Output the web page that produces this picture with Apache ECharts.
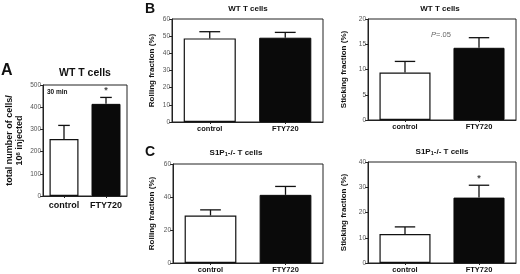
<!DOCTYPE html>
<html lang="en">
<head>
    <meta charset="UTF-8">
    <title>T cells FTY720</title>
    <script src="https://cdn.jsdelivr.net/npm/echarts@6/dist/echarts.min.js"></script>
    <style>
        html, body { margin: 0; padding: 0; background: #fff; }
        #chart { width: 520px; height: 274px; }
    </style>
</head>
<body>
    <div id="chart"></div>
    <script>
        // data
        var categories = ['control', 'FTY720'];

        // A: total number of cells / 10^6 injected (WT, 30 min)
        var totalMean = [257, 415];
        var totalSem = [61, 29];
        var totalMarks = ['', '*'];

        // B: WT T cells
        var wtRollMean = [48.7, 49.1];
        var wtRollSem = [3.9, 3.1];
        var wtStickMean = [9.4, 14.3];
        var wtStickSem = [2.2, 2.0];

        // C: S1P1-/- T cells
        var koRollMean = [28.8, 41.3];
        var koRollSem = [3.4, 5.1];
        var koStickMean = [11.5, 25.9];
        var koStickSem = [2.8, 4.9];
        var koStickMarks = ['', '*'];

        var font = 'Liberation Sans, Arial, sans-serif';

        // panel layout (px) and text sizes
        var panels = [
            { left: 43, top: 85, width: 84, height: 111, max: 500, interval: 100,
              mean: totalMean, sem: totalSem, marks: totalMarks, catSize: 9, catMargin: 5,
              name: 'total number of cells/\n10{sup|6} injected', nameGap: 18, nameSize: 9 },
            { left: 172, top: 19, width: 151, height: 103, max: 60, interval: 10,
              mean: wtRollMean, sem: wtRollSem, marks: ['', ''], catSize: 7.5, catMargin: 3,
              name: 'Rolling fraction (%)', nameGap: 15, nameSize: 8 },
            { left: 368, top: 19, width: 148, height: 101, max: 20, interval: 5,
              mean: wtStickMean, sem: wtStickSem, marks: ['', ''], catSize: 7.5, catMargin: 3,
              name: 'Sticking fraction (%)', nameGap: 19, nameSize: 8 },
            { left: 173, top: 164, width: 150, height: 99, max: 60, interval: 20,
              mean: koRollMean, sem: koRollSem, marks: ['', ''], catSize: 7.5, catMargin: 3,
              name: 'Rolling fraction (%)', nameGap: 16, nameSize: 8 },
            { left: 368, top: 162, width: 148, height: 101, max: 40, interval: 10,
              mean: koStickMean, sem: koStickSem, marks: koStickMarks, catSize: 7.5, catMargin: 3,
              name: 'Sticking fraction (%)', nameGap: 19, nameSize: 8 }
        ];

        var grids = [], xAxes = [], yAxes = [], series = [];

        panels.forEach(function (p, i) {
            grids.push({
                left: p.left, top: p.top, width: p.width, height: p.height,
                show: true, borderColor: '#222', borderWidth: 1, backgroundColor: 'transparent'
            });
            xAxes.push({
                gridIndex: i, type: 'category', data: categories,
                axisLine: { lineStyle: { color: '#222', width: 1 } },
                axisTick: { show: true, alignWithLabel: true, length: 2, lineStyle: { color: '#222' } },
                axisLabel: { interval: 0, color: '#111', fontFamily: font, fontWeight: 'bold',
                             fontSize: p.catSize, margin: p.catMargin }
            });
            yAxes.push({
                gridIndex: i, type: 'value', min: 0, max: p.max, interval: p.interval,
                splitLine: { show: false },
                axisLine: { show: true, lineStyle: { color: '#222', width: 1 } },
                axisTick: { show: true, length: 3, lineStyle: { color: '#222' } },
                axisLabel: { color: '#555', fontFamily: font, fontSize: 6.5, margin: 2 },
                name: p.name, nameLocation: 'middle', nameGap: p.nameGap,
                nameTextStyle: {
                    color: '#111', fontFamily: font, fontWeight: 'bold', fontSize: p.nameSize, lineHeight: 10,
                    rich: { sup: { fontSize: 6, verticalAlign: 'top', fontWeight: 'bold', fontFamily: font,
                                   lineHeight: 10, padding: [0, 0, 3, 0] } }
                }
            });
            series.push({
                type: 'bar', xAxisIndex: i, yAxisIndex: i, barWidth: '69%',
                data: p.mean.map(function (v, k) {
                    return {
                        value: v,
                        itemStyle: k === 0
                            ? { color: '#fff', borderColor: '#111', borderWidth: 1.2 }
                            : { color: '#0a0a0a', borderColor: '#0a0a0a', borderWidth: 1 }
                    };
                }),
                silent: true, animation: false
            });
            series.push({
                type: 'custom', xAxisIndex: i, yAxisIndex: i, silent: true, animation: false, z: 5,
                data: p.mean.map(function (v, k) { return [k, v, p.sem[k]]; }),
                renderItem: function (params, api) {
                    var base = api.coord([api.value(0), api.value(1)]);
                    var hi = api.coord([api.value(0), api.value(1) + api.value(2)]);
                    var cap = api.size([1, 0])[0] * 0.69 * 0.2;
                    var mark = p.marks[params.dataIndex];
                    var kids = [
                        { type: 'line', shape: { x1: base[0], y1: base[1], x2: hi[0], y2: hi[1] },
                          style: { stroke: '#111', lineWidth: 1.3 } },
                        { type: 'line', shape: { x1: hi[0] - cap, y1: hi[1], x2: hi[0] + cap, y2: hi[1] },
                          style: { stroke: '#111', lineWidth: 1.3 } }
                    ];
                    if (mark) {
                        kids.push({ type: 'text', x: hi[0], y: hi[1] - 2,
                            style: { text: mark, fill: '#444', font: 'bold 9px ' + font,
                                     align: 'center', verticalAlign: 'bottom' } });
                    }
                    return { type: 'group', children: kids };
                }
            });
        });

        function titleStyle(size) {
            return {
                color: '#111', fontFamily: font, fontWeight: 'bold', fontSize: size,
                rich: { sub: { fontSize: 5.5, fontWeight: 'bold', fontFamily: font,
                               verticalAlign: 'bottom', padding: [3, 0, 0, 0] } }
            };
        }
        var titles = [
            { text: 'WT T cells', left: 85, top: 68, size: 10.5 },
            { text: 'WT T cells', left: 248, top: 5, size: 8 },
            { text: 'WT T cells', left: 440, top: 5, size: 8 },
            { text: 'S1P{sub|1}-/- T cells', left: 236, top: 148, size: 8 },
            { text: 'S1P{sub|1}-/- T cells', left: 442, top: 147, size: 8 }
        ].map(function (t) {
            return { text: t.text, left: t.left, top: t.top, textAlign: 'center',
                     textStyle: titleStyle(t.size), padding: 0 };
        });

        var graphic = [
            { type: 'text', left: 1, top: 63, style: { text: 'A', fill: '#111', font: 'bold 16px ' + font } },
            { type: 'text', left: 145, top: 2, style: { text: 'B', fill: '#111', font: 'bold 14px ' + font } },
            { type: 'text', left: 145, top: 145, style: { text: 'C', fill: '#111', font: 'bold 14px ' + font } },
            { type: 'text', left: 47, top: 89, style: { text: '30 min', fill: '#111', font: 'bold 6.5px ' + font } },
            { type: 'text', left: 431, top: 31, style: {
                text: '{i|P}=.05', fill: '#666', font: '7.5px ' + font,
                rich: { i: { fontStyle: 'italic', fontSize: 7.5, fontFamily: font, fill: '#666' } } } }
        ];

        var chart = echarts.init(document.getElementById('chart'));
        chart.setOption({
            animation: false,
            backgroundColor: '#fff',
            title: titles,
            grid: grids,
            xAxis: xAxes,
            yAxis: yAxes,
            series: series,
            graphic: graphic
        });
    </script>
</body>
</html>
